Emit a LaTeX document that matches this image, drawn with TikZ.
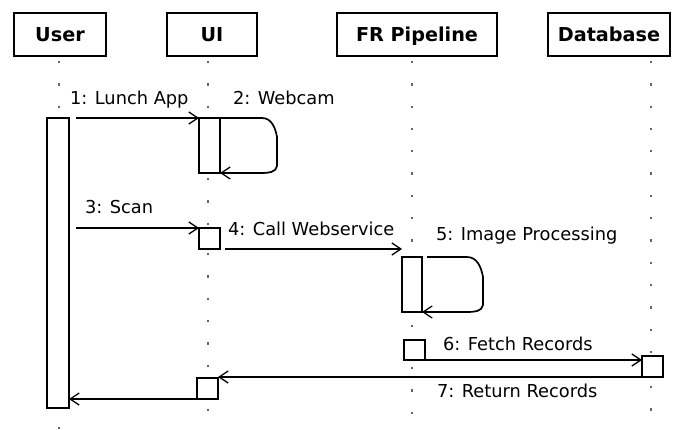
\documentclass[tikz,border=0pt]{standalone}
\usepackage{fontspec}
\setmainfont{DejaVu Sans}
\usetikzlibrary{arrows.meta,calc}
\begin{document}
\begin{tikzpicture}[x=1pt,y=-1pt,
  every node/.style={inner sep=0pt, outer sep=0pt},
  head/.style={draw, line width=1.7pt, minimum height=43pt, text height=13.5pt, text depth=0pt, font=\fontsize{19.2}{22}\selectfont\bfseries},
  act/.style={draw, fill=white, line width=1.7pt},
  msg/.style={line width=1.7pt, -{Straight Barb[length=9pt,width=12pt,line width=1.3pt]}},
  lbl/.style={anchor=base west, font=\fontsize{17.8}{20}\selectfont},
  life/.style={draw=black!60, line width=2.3pt, dash pattern=on 2.3pt off 20pt}
]
\useasboundingbox (0,0) rectangle (676,430);

% lifelines (dotted)
\draw[life] (59,61) -- (59,112);
\draw[life] (59,427) -- (59,431);
\draw[life] (208,61) -- (208,116);
\draw[life] (208,178) -- (208,226);
\draw[life] (208,253) -- (208,376);
\draw[life] (208,409) -- (208,431);
\draw[life] (412,61) -- (412,255);
\draw[life] (412,325) -- (412,338);
\draw[life] (412,367) -- (412,431);
\draw[life] (651,61) -- (651,354);
\draw[life] (651,386) -- (651,431);

% headers
\node[head, minimum width=92pt] (user) at (60,34.5) {User};
\node[head, minimum width=90pt] (ui) at (212,34.5) {UI};
\node[head, minimum width=160pt] (fr) at (417,34.5) {FR Pipeline};
\node[head, minimum width=122pt] (db) at (609,34.5) {Database};

% activations
\node[act, minimum width=22pt, minimum height=290pt] (userbar) at (58,263) {};
\node[act, minimum width=21pt, minimum height=55pt] (uibar1) at (209.5,145.5) {};
\node[act, minimum width=21pt, minimum height=21pt] (uibox1) at (209.5,238.5) {};
\node[act, minimum width=20pt, minimum height=55pt] (frbar) at (412,284.5) {};
\node[act, minimum width=21pt, minimum height=20pt] (frbox) at (414.5,350) {};
\node[act, minimum width=21pt, minimum height=21pt] (dbbox) at (652.5,366.5) {};
\node[act, minimum width=21pt, minimum height=21pt] (uibox2) at (207.5,388.5) {};

% messages
\draw[msg] ($(userbar.north east)+(7,0)$) -- (uibar1.north west);
\draw[msg] (uibar1.north east) -- ++(42,0) to[out=0,in=100] ++(15,19) -- ++(0,29) to[out=-100,in=0] ++(-15,7) -- (uibar1.south east);
\draw[msg] ($(userbar.east |- uibox1.north)+(7,0)$) -- (uibox1.north west);
\draw[msg] ($(uibox1.south east)+(5,0)$) -- (frbar.west |- uibox1.south);
\draw[msg] ($(frbar.north east)+(5,0)$) -- ++(40,0) to[out=0,in=100] ++(16,20) -- ++(0,28) to[out=-100,in=0] ++(-16,7) -- (frbar.south east);
\draw[msg] (frbox.south east) -- (dbbox.west |- frbox.south);
\draw[msg] (dbbox.south west) -- (uibox2.east |- dbbox.south);
\draw[msg] (uibox2.south west) -- (userbar.east |- uibox2.south);

% labels
\node[lbl] (l1) at (70,105) {1: Lunch App};
\node[lbl] (l2) at (233,105) {2: Webcam};
\node[lbl] (l3) at (85,213) {3: Scan};
\node[lbl] (l4) at (228,235) {4: Call Webservice};
\node[lbl] (l5) at (436,240) {5: Image Processing};
\node[lbl] (l6) at (443,350) {6: Fetch Records};
\node[lbl] (l7) at (437,397) {7: Return Records};
\end{tikzpicture}
\end{document}
